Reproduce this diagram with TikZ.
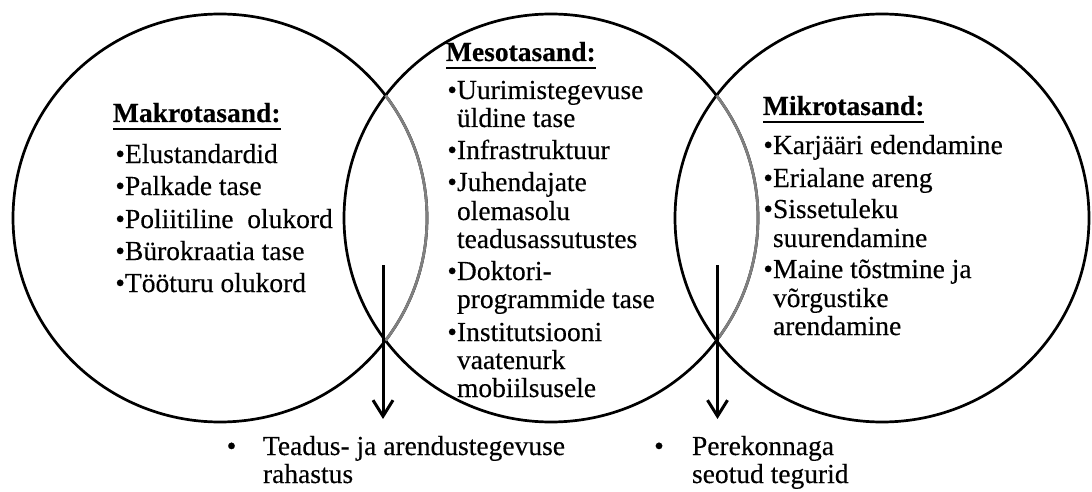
\documentclass[tikz,border=0pt]{standalone}
\usepackage{fontspec}
\setmainfont{Liberation Serif}[UprightFeatures={FakeBold=0.3},BoldFeatures={FakeBold=0.3}]
\usetikzlibrary{arrows.meta}
\newcommand\fsz{\fontsize{27.5}{28}\selectfont}
\newcommand\bul{\llap{\textbullet}}
\newcommand\hd[1]{\setbox0\hbox{\bfseries #1}\rlap{\rule[-8pt]{\wd0}{2.2pt}}\box0}
\definecolor{arcgray}{RGB}{128,128,128}
\begin{document}
\begin{tikzpicture}[x=1pt,y=-1pt,
  circ/.style={draw=black,line width=2.7pt},
  garc/.style={draw=arcgray,line width=2.7pt},
  txt/.style={anchor=base west,inner sep=0pt,outer sep=0pt,font=\fsz,text=black},
  bulnode/.style={anchor=base,inner sep=0pt,outer sep=0pt,font=\fsz,text=black},
  arr/.style={line width=3pt,-{Straight Barb[length=16pt,width=20pt]}}]
\useasboundingbox (0,0) rectangle (1092,492);
\fill[white] (0,0) rectangle (1092,492);
% circles
\draw[circ] (220,218) ellipse [x radius=207, y radius=204];
\draw[circ] (551,218) ellipse [x radius=207, y radius=204];
\draw[circ] (882,218) ellipse [x radius=207, y radius=204];
% gray overlapping arcs
\draw[garc] (220,218) ++(-36.9:207 and 204) arc[start angle=-36.9, end angle=36.9, x radius=207, y radius=204];
\draw[garc] (551,218) ++(-36.9:207 and 204) arc[start angle=-36.9, end angle=36.9, x radius=207, y radius=204];
% left block
\node[txt] (L0) at (113,122) {\hd{Makrotasand:}};
\node[txt] (L1) at (125,163) {\bul Elustandardid};
\node[txt] (L2) at (125,195) {\bul Palkade tase};
\node[txt] (L3) at (125,228) {\bul Poliitiline~~olukord};
\node[txt] (L4) at (125,260) {\bul Bürokraatia tase};
\node[txt] (L5) at (125,292) {\bul Tööturu olukord};
% middle block
\node[txt] (M0) at (446,61) {\hd{Mesotasand:}};
\node[txt] (M1) at (457,99) {\bul Uurimistegevuse};
\node[txt] (M2) at (457,127) {üldine tase};
\node[txt] (M3) at (457,159) {\bul Infrastruktuur};
\node[txt] (M4) at (457,191) {\bul Juhendajate};
\node[txt] (M5) at (457,220) {olemasolu};
\node[txt] (M6) at (457,248) {teadusassutustes};
\node[txt] (M7) at (457,280) {\bul Doktori-};
\node[txt] (M8) at (457,308) {programmide tase};
\node[txt] (M9) at (457,341) {\bul Institutsiooni};
\node[txt] (M10) at (457,369) {vaatenurk};
\node[txt] (M11) at (457,397) {mobiilsusele};
% right block
\node[txt] (R0) at (763,115) {\hd{Mikrotasand:}};
\node[txt] (R1) at (773,154) {\bul Karjääri edendamine};
\node[txt] (R2) at (773,187) {\bul Erialane areng};
\node[txt] (R3) at (773,218) {\bul Sissetuleku};
\node[txt] (R4) at (773,247) {suurendamine};
\node[txt] (R5) at (773,278) {\bul Maine tõstmine ja};
\node[txt] (R6) at (773,307) {võrgustike};
\node[txt] (R7) at (773,335) {arendamine};
% arrows
\coordinate (a1s) at (383,265);
\coordinate (a1e) at (383,419);
\coordinate (a2s) at (717.5,265);
\coordinate (a2e) at (717.5,419);
\draw[arr] (a1s) -- (a1e);
\draw[arr] (a2s) -- (a2e);
% bottom texts
\node[bulnode] (B1b) at (231.5,455) {\textbullet};
\node[txt] (B1) at (263,455) {Teadus- ja arendustegevuse};
\node[txt] (B1c) at (263,483) {rahastus};
\node[bulnode] (B2b) at (659,455) {\textbullet};
\node[txt] (B2) at (692,455) {Perekonnaga};
\node[txt] (B2c) at (692,483) {seotud tegurid};
\end{tikzpicture}
\end{document}
